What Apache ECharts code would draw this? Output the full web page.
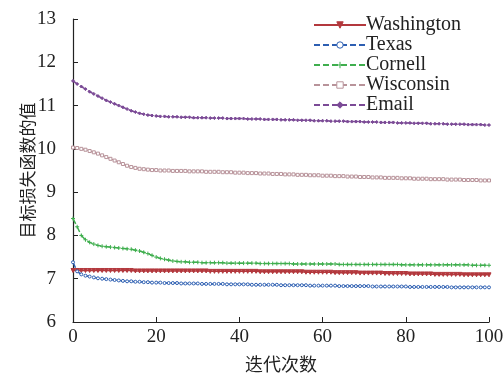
<!DOCTYPE html>
<html><head><meta charset="utf-8">
<script src="https://cdn.jsdelivr.net/npm/echarts@6/dist/echarts.min.js"></script>
<style>html,body{margin:0;padding:0;background:#fff}#c{width:504px;height:374px}</style>
</head><body><div id="c"></div>
<script>
var iterations = [];
for (var k = 0; k <= 100; k++) iterations.push(k);
var seriesNames = ['Washington','Texas','Cornell','Wisconsin','Email'];
var xTicks = [0,20,40,60,80,100];
var yTicks = [6,7,8,9,10,11,12,13];

var washington = [7.19,7.19,7.19,7.19,7.19,7.19,7.19,7.19,7.19,7.19,7.19,
7.19,7.19,7.19,7.19,7.18,7.18,7.18,7.18,7.18,7.18,
7.18,7.18,7.18,7.18,7.18,7.18,7.18,7.18,7.18,7.18,
7.18,7.18,7.17,7.17,7.17,7.17,7.17,7.17,7.17,7.17,
7.17,7.17,7.17,7.17,7.16,7.16,7.16,7.16,7.16,7.16,
7.16,7.16,7.16,7.16,7.16,7.15,7.15,7.15,7.15,7.15,
7.15,7.15,7.14,7.14,7.14,7.14,7.14,7.14,7.13,7.13,
7.13,7.13,7.13,7.13,7.12,7.12,7.12,7.12,7.12,7.12,
7.11,7.11,7.11,7.11,7.11,7.11,7.10,7.10,7.10,7.10,
7.10,7.10,7.10,7.09,7.09,7.09,7.09,7.09,7.09,7.09];
var texas = [7.38,7.17,7.10,7.07,7.05,7.03,7.01,7.00,6.99,6.98,6.97,
6.96,6.95,6.94,6.94,6.93,6.93,6.92,6.92,6.91,6.91,
6.91,6.90,6.90,6.90,6.90,6.89,6.89,6.89,6.89,6.89,
6.88,6.88,6.88,6.88,6.88,6.88,6.87,6.87,6.87,6.87,
6.87,6.87,6.86,6.86,6.86,6.86,6.86,6.86,6.86,6.85,
6.85,6.85,6.85,6.85,6.85,6.85,6.84,6.84,6.84,6.84,
6.84,6.84,6.84,6.83,6.83,6.83,6.83,6.83,6.83,6.83,
6.83,6.82,6.82,6.82,6.82,6.82,6.82,6.82,6.82,6.82,
6.81,6.81,6.81,6.81,6.81,6.81,6.81,6.81,6.81,6.81,
6.80,6.80,6.80,6.80,6.80,6.80,6.80,6.80,6.80,6.80];
var cornell = [8.39,8.20,8.00,7.90,7.84,7.80,7.77,7.75,7.74,7.73,7.72,
7.71,7.70,7.69,7.68,7.66,7.64,7.61,7.58,7.54,7.50,
7.47,7.45,7.43,7.41,7.40,7.39,7.39,7.38,7.38,7.38,
7.37,7.37,7.37,7.37,7.37,7.37,7.36,7.36,7.36,7.36,
7.36,7.36,7.36,7.36,7.35,7.35,7.35,7.35,7.35,7.35,
7.35,7.35,7.34,7.34,7.34,7.34,7.34,7.34,7.34,7.34,
7.34,7.34,7.34,7.33,7.33,7.33,7.33,7.33,7.33,7.33,
7.33,7.33,7.33,7.33,7.33,7.33,7.33,7.33,7.32,7.32,
7.32,7.32,7.32,7.32,7.32,7.32,7.32,7.32,7.32,7.32,
7.32,7.32,7.32,7.32,7.32,7.31,7.31,7.31,7.31,7.31];
var wisconsin = [10.03,10.02,10.00,9.98,9.95,9.92,9.89,9.85,9.81,9.77,9.73,
9.69,9.65,9.61,9.58,9.56,9.54,9.53,9.52,9.51,9.51,
9.50,9.50,9.50,9.49,9.49,9.49,9.49,9.48,9.48,9.48,
9.48,9.47,9.47,9.47,9.47,9.46,9.46,9.46,9.45,9.45,
9.45,9.44,9.44,9.44,9.43,9.43,9.43,9.42,9.42,9.42,
9.41,9.41,9.41,9.40,9.40,9.40,9.39,9.39,9.39,9.38,
9.38,9.38,9.37,9.37,9.37,9.36,9.36,9.36,9.35,9.35,
9.35,9.34,9.34,9.34,9.33,9.33,9.33,9.33,9.32,9.32,
9.32,9.31,9.31,9.31,9.31,9.30,9.30,9.30,9.30,9.29,
9.29,9.29,9.29,9.28,9.28,9.28,9.28,9.27,9.27,9.27];
var email = [11.57,11.50,11.44,11.38,11.32,11.27,11.22,11.17,11.12,11.08,11.04,
11.00,10.96,10.92,10.88,10.85,10.82,10.80,10.78,10.77,10.76,
10.75,10.75,10.74,10.74,10.74,10.73,10.73,10.73,10.72,10.72,
10.72,10.72,10.71,10.71,10.71,10.71,10.70,10.70,10.70,10.70,
10.70,10.69,10.69,10.69,10.69,10.68,10.68,10.68,10.68,10.67,
10.67,10.67,10.67,10.66,10.66,10.66,10.66,10.65,10.65,10.65,
10.65,10.64,10.64,10.64,10.64,10.63,10.63,10.63,10.63,10.62,
10.62,10.62,10.62,10.61,10.61,10.61,10.61,10.60,10.60,10.60,
10.60,10.59,10.59,10.59,10.59,10.58,10.58,10.58,10.58,10.57,
10.57,10.57,10.57,10.57,10.56,10.56,10.56,10.56,10.55,10.55];

var allData = [washington, texas, cornell, wisconsin, email];
var colors = ['#b3383d','#2d5fb2','#3fae4e','#b8939a','#7b4a96'];
var symbols = ['triangle','circle','path://M-1,0H1M0,-1V1','rect','diamond'];
var lineTypes = ['solid',[6,3],[6,3],[6,3],[6,3]];
var symbolSizes = [4,3,4,3,3];
var fills = ['#b3383d','#fff','#3fae4e','#fff','#7b4a96'];
var serif = '"Liberation Serif","Times New Roman","Noto Sans CJK SC",serif';

var series = seriesNames.map(function(n, i){
  return {
    name: n, type: 'line',
    data: iterations.map(function(x, j){ return [x, allData[i][j]]; }),
    symbol: symbols[i], symbolSize: symbolSizes[i], symbolRotate: i===0?180:0,
    showSymbol: true, showAllSymbol: true,
    itemStyle: { color: fills[i], borderColor: colors[i], borderWidth: 1 },
    lineStyle: { color: colors[i], width: 1.5, type: lineTypes[i] },
    animation: false
  };
});

var chart = echarts.init(document.getElementById('c'));
chart.setOption({
  backgroundColor: '#fff',
  animation: false,
  grid: { left: 73, right: 15, top: 19, bottom: 52, containLabel: false, outerBoundsMode: 'none' },
  legend: {
    orient: 'vertical', left: 313, top: 15, itemGap: 0, padding: 0,
    itemWidth: 52, itemHeight: 8, itemStyle: { borderWidth: 1 },
    textStyle: { fontFamily: serif, fontSize: 20, color: '#222', lineHeight: 19.3, padding: [0,0,0,-5] },
    data: seriesNames
  },
  xAxis: {
    type: 'value', min: 0, max: 100, interval: 20,
    name: '迭代次数', nameLocation: 'middle', nameGap: 33, nameMoveOverlap: false,
    nameTextStyle: { fontFamily: '"Noto Sans CJK SC",sans-serif', fontSize: 18, color: '#222' },
    axisLine: { lineStyle: { color: '#222', width: 1.2 } },
    axisTick: { inside: true, length: 5, lineStyle: { color: '#222' } },
    axisLabel: { fontFamily: serif, fontSize: 19, color: '#222', margin: 6 },
    splitLine: { show: false }
  },
  yAxis: {
    type: 'value', min: 6, max: 13, interval: 1,
    name: '目标损失函数的值', nameLocation: 'middle', nameGap: 37, nameRotate: 90, nameMoveOverlap: false,
    nameTextStyle: { fontFamily: '"Noto Sans CJK SC",sans-serif', fontSize: 17, color: '#222' },
    axisLine: { show: true, lineStyle: { color: '#222', width: 1.2 } },
    axisTick: { show: true, inside: true, length: 5, lineStyle: { color: '#222' } },
    axisLabel: { fontFamily: serif, fontSize: 19, color: '#222', margin: 17 },
    splitLine: { show: false }
  },
  series: series
});
</script></body></html>
